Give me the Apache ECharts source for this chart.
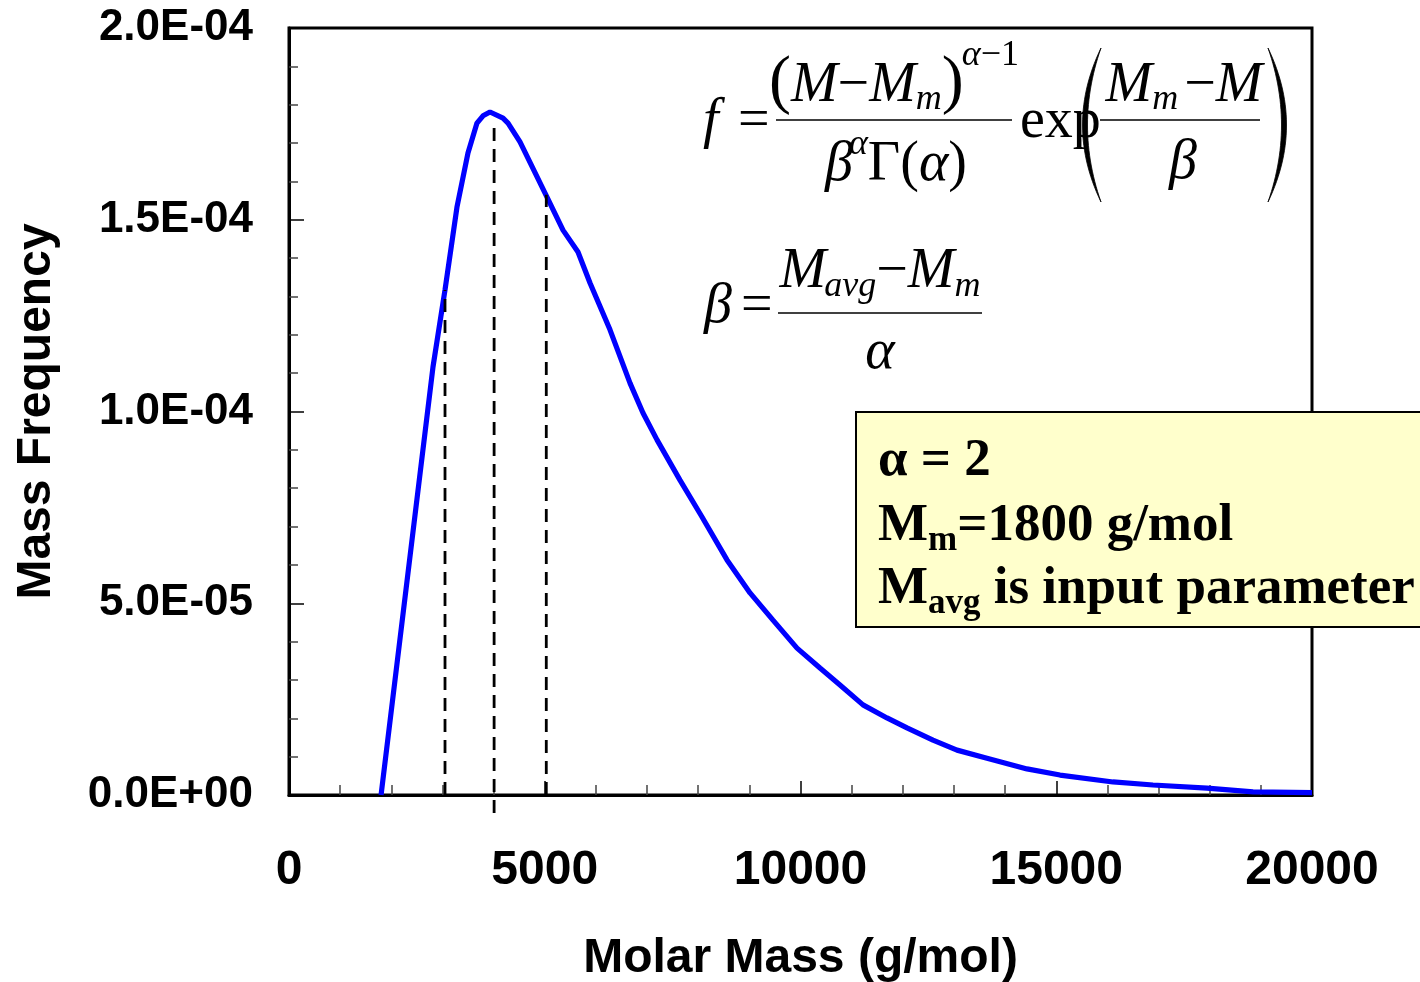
<!DOCTYPE html>
<html>
<head>
<meta charset="utf-8">
<script src="https://cdn.jsdelivr.net/npm/echarts@6/dist/echarts.min.js"></script>
<style>html,body{margin:0;padding:0;background:#fff;}#chart{width:1420px;height:982px;}</style>
</head>
<body>
<div id="chart"></div>
<script>
// ---- data ----
const molarMass = [1800, 2815, 3050, 3284, 3499, 3675, 3793, 3930, 4184, 4282, 4516, 5044, 5357, 5650, 5885, 6276, 6667, 6921, 7195, 7644, 8075, 8563, 9013, 9462, 9932, 10381, 10772, 11222, 11691, 12082, 12590, 13060, 13646, 14428, 15073, 16109, 16891, 17947, 18847, 20000];
const massFreq = [0, 1.116e-4, 1.317e-4, 1.533e-4, 1.674e-4, 1.752e-4, 1.771e-4, 1.781e-4, 1.765e-4, 1.752e-4, 1.703e-4, 1.559e-4, 1.473e-4, 1.416e-4, 1.335e-4, 1.213e-4, 1.074e-4, 0.996e-4, 0.926e-4, 0.821e-4, 0.725e-4, 0.613e-4, 0.527e-4, 0.456e-4, 0.383e-4, 0.331e-4, 0.287e-4, 0.235e-4, 0.201e-4, 0.175e-4, 0.143e-4, 0.117e-4, 0.096e-4, 0.068e-4, 0.052e-4, 0.034e-4, 0.026e-4, 0.018e-4, 0.008e-4, 0.006e-4];
const dropMass = [3050, 4010, 5030];
const dropTop = [1.317e-4, 1.752e-4, 1.565e-4];
const dropBottom = [0, -4.7e-6, 0];
const yTickLabels = ['0.0E+00', '5.0E-05', '1.0E-04', '1.5E-04', '2.0E-04'];
const xTickLabels = ['0', '5000', '10000', '15000', '20000'];
const boxLines = ['α = 2', 'M|m|=1800 g/mol', 'M|avg| is input parameter'];

// ---- text layout helpers (annotation formulas) ----
const cv = document.createElement('canvas').getContext('2d');
const SERIF = '"Liberation Serif", "Times New Roman", serif';
function fontOf(p) { return (p.it ? 'italic ' : '') + (p.b ? 'bold ' : '') + p.s + 'px ' + SERIF; }
function measure(pieces) {
  let w = 0;
  pieces.forEach(p => { cv.font = fontOf(p); w += (p.dx || 0) + cv.measureText(p.t).width; });
  return w;
}
function runText(pieces, x0, baseY, z) {
  const out = []; let x = x0;
  pieces.forEach(p => {
    const font = fontOf(p);
    cv.font = font; cv.textBaseline = 'middle';
    const off = cv.measureText('x').actualBoundingBoxDescent;
    x += (p.dx || 0);
    out.push({ type: 'text', x: x, y: baseY + (p.dy || 0) - off, z: z || 100,
      style: { text: p.t, font: font, fill: '#000', textAlign: 'left', textVerticalAlign: 'middle' } });
    cv.textBaseline = 'alphabetic';
    x += cv.measureText(p.t).width;
  });
  return out;
}
function centered(pieces, cx, baseY) { return runText(pieces, cx - measure(pieces) / 2, baseY); }
function hline(x1, x2, y, w) { return { type: 'line', z: 100, shape: { x1: x1, y1: y, x2: x2, y2: y }, style: { stroke: '#000', lineWidth: w || 1.6 } }; }
function paren(xEnd, xOuter, xInner, y1, y2) {
  // crescent outline from two quadratic curves (big bracket glyph)
  const pts = [], n = 30, ym = (y1 + y2) / 2;
  for (let i = 0; i <= n; i++) { const t = i / n; pts.push([(1 - t) * (1 - t) * xEnd + 2 * t * (1 - t) * xOuter + t * t * xEnd, (1 - t) * (1 - t) * y1 + 2 * t * (1 - t) * ym + t * t * y2]); }
  for (let i = n; i >= 0; i--) { const t = i / n; pts.push([(1 - t) * (1 - t) * xEnd + 2 * t * (1 - t) * xInner + t * t * xEnd, (1 - t) * (1 - t) * y1 + 2 * t * (1 - t) * ym + t * t * y2]); }
  return { type: 'polygon', z: 100, shape: { points: pts }, style: { fill: '#000', stroke: '#000', lineWidth: 0.8 } };
}

const S = 56, SS = 36;
const g = [];
// f = ...
g.push(...runText([{ t: 'f', s: S, it: true }], 703, 137));
g.push(...runText([{ t: '=', s: S }], 738, 137));
g.push(...centered([
  { t: '(', s: 66 }, { t: 'M', s: S, it: true }, { t: '−', s: S }, { t: 'M', s: S, it: true },
  { t: 'm', s: SS, it: true, dy: 8 }, { t: ')', s: 66 }, { t: 'α', s: SS, it: true, dy: -36, dx: -2 }, { t: '−1', s: SS, dy: -36 }
], 894, 101));
g.push(hline(776, 1012, 120));
g.push(...centered([
  { t: 'β', s: S, it: true }, { t: 'α', s: SS, it: true, dy: -26, dx: -4 }, { t: 'Γ(', s: S }, { t: 'α', s: S, it: true }, { t: ')', s: S }
], 896, 180));
g.push(...runText([{ t: 'exp', s: S }], 1020, 137));
g.push(...centered([
  { t: 'M', s: S, it: true }, { t: 'm', s: SS, it: true, dy: 8 }, { t: '−', s: S, dx: 6 }, { t: 'M', s: S, it: true }
], 1184, 101));
g.push(hline(1100, 1260, 120));
g.push(...centered([{ t: 'β', s: S, it: true }], 1183, 178));
// big parentheses
g.push(paren(1101, 1064, 1074, 48, 202));
g.push(paren(1268, 1305, 1295, 48, 202));
// beta = ...
g.push(...runText([{ t: 'β', s: S, it: true }], 704, 322));
g.push(...runText([{ t: '=', s: S }], 741, 322));
g.push(...centered([
  { t: 'M', s: S, it: true }, { t: 'avg', s: SS, it: true, dy: 9, dx: -2 }, { t: '−', s: S }, { t: 'M', s: S, it: true }, { t: 'm', s: SS, it: true, dy: 9 }
], 880, 287));
g.push(hline(778, 982, 313));
g.push(...centered([{ t: 'α', s: S, it: true }], 880, 368));

// yellow parameter box
g.push({ type: 'rect', z: 90, shape: { x: 856, y: 412, width: 620, height: 215 }, style: { fill: '#FFFFCC', stroke: '#000', lineWidth: 2 } });
const BS = 53, BSS = 35;
const boxBase = [475, 540, 603];
boxLines.forEach((ln, i) => {
  const parts = ln.split('|');
  const pieces = parts.map((t, k) => k % 2 === 1 ? { t: t, s: BSS, b: true, dy: 10 } : { t: t, s: BS, b: true });
  g.push(...runText(pieces.filter(p => p.t.length), 878, boxBase[i], 110));
});

const chart = echarts.init(document.getElementById('chart'), null, { renderer: 'canvas' });
const series = [{
  type: 'line', data: molarMass.map((m, i) => [m, massFreq[i]]), showSymbol: false, smooth: false,
  lineStyle: { color: '#0000FF', width: 5.2 }, z: 3
}];
dropMass.forEach((m, i) => series.push({
  type: 'line', data: [[m, dropBottom[i]], [m, dropTop[i]]], showSymbol: false, clip: false,
  lineStyle: { color: '#000', width: 2.8, type: [13, 8] }, z: 4
}));

const SANS = '"Liberation Sans", Arial, sans-serif';
chart.setOption({
  animation: false,
  grid: { left: 289, right: 108, top: 28, bottom: 187, containLabel: false, outerBoundsMode: 'none',
    show: true, borderColor: '#000', borderWidth: 3, backgroundColor: 'transparent' },
  xAxis: {
    type: 'value', min: 0, max: 20000, interval: 5000,
    name: 'Molar Mass (g/mol)', nameLocation: 'middle', nameGap: 140,
    nameTextStyle: { fontFamily: SANS, fontWeight: 'bold', fontSize: 48, color: '#000' },
    axisLine: { show: true, lineStyle: { color: '#000', width: 3 } },
    axisTick: { show: true, inside: true, length: 14, lineStyle: { color: '#000', width: 1.5 } },
    minorTick: { show: true, splitNumber: 5, length: 10, lineStyle: { color: '#444', width: 1.5 } },
    splitLine: { show: false },
    axisLabel: { margin: 52, fontFamily: SANS, fontWeight: 'bold', fontSize: 48, color: '#000',
      formatter: v => xTickLabels[Math.round(v / 5000)] }
  },
  yAxis: {
    type: 'value', min: 0, max: 2e-4, interval: 5e-5,
    name: 'Mass Frequency', nameLocation: 'middle', nameGap: 228, nameRotate: 90,
    nameTextStyle: { fontFamily: SANS, fontWeight: 'bold', fontSize: 48, color: '#000' },
    axisLine: { show: true, lineStyle: { color: '#000', width: 3 } },
    axisTick: { show: true, inside: true, length: 15, lineStyle: { color: '#000', width: 1.5 } },
    minorTick: { show: true, splitNumber: 5, length: 9, lineStyle: { color: '#444', width: 1.5 } },
    splitLine: { show: false },
    axisLabel: { margin: 36, fontFamily: SANS, fontWeight: 'bold', fontSize: 44, color: '#000',
      formatter: v => yTickLabels[Math.round(v / 5e-5)] }
  },
  series: series,
  graphic: { elements: g }
});
</script>
</body>
</html>
